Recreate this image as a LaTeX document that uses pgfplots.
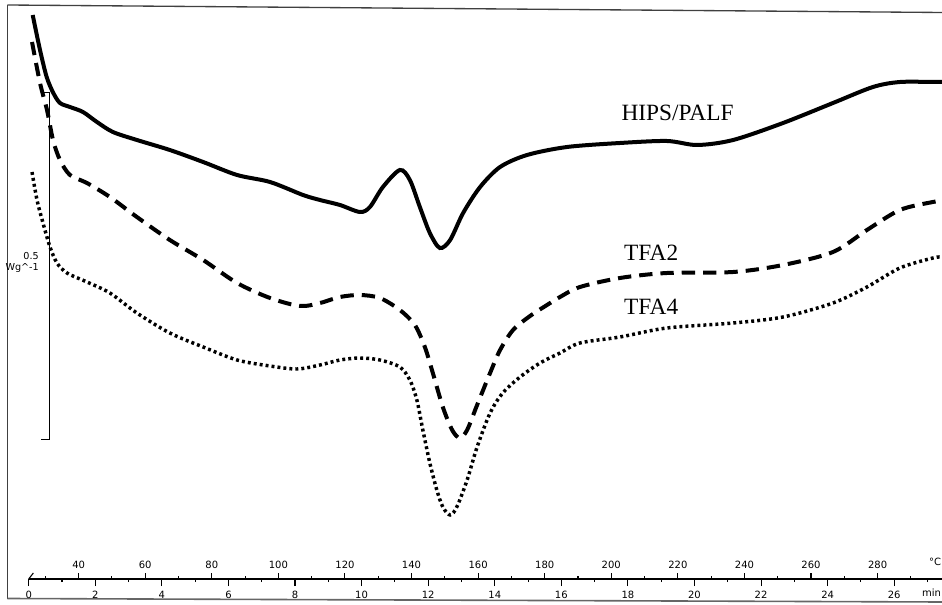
\documentclass[border=0pt]{standalone}
\usepackage{pgfplots}
\pgfplotsset{compat=1.18}
\usepackage{fontspec}
\setmainfont{Liberation Serif}
\newfontfamily\rulerfont{DejaVu Sans}
\begin{document}
\begin{tikzpicture}
% main axis: x in minutes, y in (inverted) picture units
\begin{axis}[name=main, at={(0pt,0pt)}, anchor=south west, scale only axis,
  width=706.5pt, height=453pt,
  xmin=-0.862, xmax=27.435, ymin=-604, ymax=0,
  axis lines=none, clip=false]
% HIPS/PALF
\addplot[black, line width=3pt, smooth, tension=0.5] coordinates {
(0.12,-15) (0.34,-50) (0.54,-77) (0.74,-93) (0.94,-103) (1.24,-107) (1.63,-112)
(2.05,-122) (2.53,-132) (3.25,-140) (4.24,-150) (5.24,-162) (6.26,-175) (7.25,-182)
(8.24,-195) (8.75,-200) (9.35,-205) (9.95,-212) (10.25,-207) (10.64,-187) (11.15,-170)
(11.45,-180) (11.75,-207) (12.05,-233) (12.35,-248) (12.66,-240) (13.05,-213)
(13.56,-187) (14.16,-167) (14.97,-155) (16.17,-147) (17.76,-143) (19.17,-141)
(20.08,-145) (21.16,-140) (22.66,-123) (24.16,-103) (25.36,-87) (26.17,-82)
(27.16,-82) (27.43,-82)};
% TFA2
\addplot[black, line width=3pt, smooth, tension=0.5, dash pattern=on 10pt off 6pt] coordinates {
(0.10,-42) (0.34,-83) (0.55,-110) (0.73,-140) (0.94,-160) (1.24,-175) (1.75,-183)
(2.44,-197) (3.25,-217) (4.24,-240) (5.24,-260) (6.26,-283) (7.25,-298) (8.15,-306)
(8.75,-303) (9.35,-297) (9.95,-295) (10.55,-298) (11.15,-310) (11.60,-325)
(11.90,-347) (12.14,-373) (12.44,-407) (12.72,-430) (12.95,-438) (13.17,-430)
(13.47,-405) (13.86,-373) (14.16,-350) (14.55,-330) (15.06,-316) (15.57,-305)
(15.96,-297) (16.56,-287) (17.76,-278) (19.17,-273) (21.16,-272) (22.66,-265)
(24.16,-252) (25.18,-230) (26.17,-210) (27.16,-202) (27.43,-201)};
% TFA4
\addplot[black, line width=2.6pt, smooth, tension=0.5, dash pattern=on 2.2pt off 2.3pt] coordinates {
(0.10,-172) (0.25,-200) (0.43,-223) (0.64,-247) (0.85,-263) (1.15,-273) (1.75,-282)
(2.44,-293) (3.25,-313) (4.24,-333) (5.24,-347) (6.26,-360) (7.25,-366) (8.06,-369)
(8.75,-365) (9.35,-360) (9.95,-358) (10.55,-360) (11.15,-367) (11.45,-380)
(11.66,-400) (11.84,-430) (12.05,-463) (12.26,-490) (12.44,-507) (12.66,-515)
(12.86,-507) (13.17,-480) (13.47,-447) (13.86,-413) (14.24,-393) (14.76,-377)
(15.36,-363) (15.96,-353) (16.56,-343) (17.76,-337) (19.17,-328) (21.16,-323)
(22.66,-317) (24.16,-303) (25.18,-287) (26.17,-268) (27.16,-258) (27.43,-257)};
% frame
\draw[black!75, line width=1pt] (axis cs:-0.637,-5) -- (axis cs:27.435,-12.5);
\draw[black!75, line width=1pt] (axis cs:-0.637,-5) -- (axis cs:-0.637,-598.5);
\draw[black!60, line width=1.2pt] (axis cs:-0.637,-598.5) -- (axis cs:27.435,-602);
% scale bar
\draw[black, line width=0.7pt] (axis cs:0.46,-92.5) -- (axis cs:0.625,-92.5) -- (axis cs:0.625,-439) -- (axis cs:0.37,-439);
\node[anchor=east, inner sep=0pt, font=\rulerfont\fontsize{7.2}{8}\selectfont] at (axis cs:0.31,-256) {0.5};
\node[anchor=east, inner sep=0pt, font=\rulerfont\fontsize{7.2}{8}\selectfont] at (axis cs:0.31,-268) {Wg\textasciicircum{}-1};
% curve labels
\node[anchor=west, inner sep=0pt, font=\fontsize{17.5}{20}\selectfont] at (axis cs:17.80,-113) {HIPS/PALF};
\node[anchor=west, inner sep=0pt, font=\fontsize{17.5}{20}\selectfont] at (axis cs:17.88,-253) {TFA2};
\node[anchor=west, inner sep=0pt, font=\fontsize{17.5}{20}\selectfont] at (axis cs:17.88,-307) {TFA4};
% ruler start mark and units
\draw[black, line width=0.8pt] (axis cs:0,-579) -- (axis cs:0.14,-573);
\node[anchor=east, inner sep=0.5pt, font=\rulerfont\fontsize{7.5}{8}\selectfont] at (axis cs:27.435,-562) {°C};
\node[anchor=east, inner sep=0.5pt, font=\rulerfont\fontsize{7.5}{8}\selectfont] at (axis cs:27.435,-593) {min};
\end{axis}
% lower ruler: time in minutes
\begin{axis}[at={(21.525pt,18.75pt)}, anchor=south west, scale only axis,
  width=684.975pt, height=10pt, xmin=0, xmax=27.435, ymin=0, ymax=1,
  axis x line*=bottom, axis y line=none, axis line style={-, line width=0.9pt},
  xtick={0,2,...,26}, xticklabels={0,2,4,6,8,10,12,14,16,18,20,22,24,26},
  minor xtick={1,3,...,27}, tick align=outside,
  major tick length=5.25pt, minor tick length=2.4pt,
  every tick/.style={black, line width=0.8pt},
  xticklabel style={font=\rulerfont\fontsize{7.5}{8}\selectfont}]
\addplot[draw=none] coordinates {(0,0.5)};
\end{axis}
% upper ruler: temperature
\begin{axis}[at={(21.525pt,18.75pt)}, anchor=north west, scale only axis,
  width=684.975pt, height=10pt, xmin=0, xmax=27.435, ymin=0, ymax=1,
  axis x line*=top, axis y line=none, axis line style={-, line width=0.9pt},
  xtick={1.5,3.5,...,25.5}, xticklabels={40,60,80,100,120,140,160,180,200,220,240,260,280},
  minor xtick={0.5,2.5,...,26.5}, tick align=outside,
  major tick length=4.5pt, minor tick length=2.25pt,
  every tick/.style={black, line width=0.8pt},
  xticklabel style={font=\rulerfont\fontsize{7.5}{8}\selectfont}]
\addplot[draw=none] coordinates {(0,0.5)};
\end{axis}
\pgfresetboundingbox
\useasboundingbox (0,0) rectangle (706.5pt,453pt);
\end{tikzpicture}
\end{document}
